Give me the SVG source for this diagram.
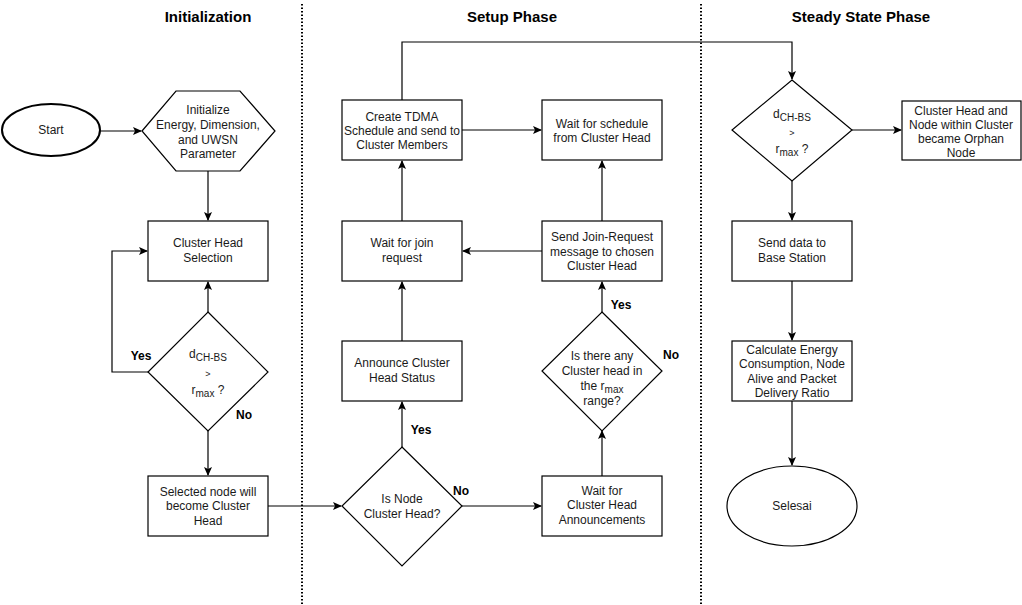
<svg xmlns="http://www.w3.org/2000/svg" width="1022" height="605" viewBox="0 0 1022 605">
<style>
.n{fill:#fff;stroke:#000;stroke-width:1.2}
.t{font-family:"Liberation Sans",Arial,sans-serif;font-size:12px;fill:#1a1a1a;text-anchor:middle}
.h{font-family:"Liberation Sans",Arial,sans-serif;font-size:15px;font-weight:bold;fill:#000;text-anchor:middle}
.l{font-family:"Liberation Sans",Arial,sans-serif;font-size:12px;font-weight:bold;fill:#000;text-anchor:middle}
.c{fill:none;stroke:#000;stroke-width:1.2}
.s{font-size:10px}
.g{font-size:9px}
.d{stroke:#000;stroke-width:2;stroke-dasharray:1.5 2;fill:none}
</style>
<defs>
<marker id="a" markerWidth="10" markerHeight="10" refX="8" refY="4" orient="auto" markerUnits="userSpaceOnUse">
<path d="M0,0 L9,4 L0,8 L2,4 Z" fill="#000"/>
</marker>
</defs>
<rect width="1022" height="605" fill="#fff"/>
<g id="dividers">
<line class="d" x1="302" y1="4" x2="302" y2="605"/>
<line class="d" x1="701" y1="4" x2="701" y2="605"/>
</g>
<g id="headers">
<text class="h" x="208" y="22">Initialization</text>
<text class="h" x="512" y="22">Setup Phase</text>
<text class="h" x="861" y="22">Steady State Phase</text>
</g>
<g id="connectors">
<line class="c" x1="100" y1="131" x2="141" y2="131" marker-end="url(#a)"/>
<line class="c" x1="208" y1="171" x2="208" y2="220" marker-end="url(#a)"/>
<line class="c" x1="208" y1="312" x2="208" y2="282" marker-end="url(#a)"/>
<polyline class="c" points="148,372 112,372 112,251 147,251" marker-end="url(#a)"/>
<line class="c" x1="208" y1="430" x2="208" y2="475" marker-end="url(#a)"/>
<line class="c" x1="268" y1="506" x2="341" y2="506" marker-end="url(#a)"/>
<line class="c" x1="462" y1="506" x2="541" y2="506" marker-end="url(#a)"/>
<line class="c" x1="402" y1="447" x2="402" y2="402" marker-end="url(#a)"/>
<line class="c" x1="402" y1="341" x2="402" y2="282" marker-end="url(#a)"/>
<line class="c" x1="402" y1="221" x2="402" y2="161" marker-end="url(#a)"/>
<line class="c" x1="462" y1="130" x2="541" y2="130" marker-end="url(#a)"/>
<polyline class="c" points="402,100 402,42 792,42 792,79" marker-end="url(#a)"/>
<line class="c" x1="602" y1="476" x2="602" y2="431" marker-end="url(#a)"/>
<line class="c" x1="602" y1="312" x2="602" y2="282" marker-end="url(#a)"/>
<line class="c" x1="542" y1="251" x2="463" y2="251" marker-end="url(#a)"/>
<line class="c" x1="602" y1="221" x2="602" y2="161" marker-end="url(#a)"/>
<line class="c" x1="852" y1="130" x2="901" y2="130" marker-end="url(#a)"/>
<line class="c" x1="792" y1="181" x2="792" y2="220" marker-end="url(#a)"/>
<line class="c" x1="792" y1="281" x2="792" y2="340" marker-end="url(#a)"/>
<line class="c" x1="792" y1="401" x2="792" y2="465" marker-end="url(#a)"/>
</g>
<g id="labels">
<text class="l" x="141" y="360">Yes</text>
<text class="l" x="244" y="419">No</text>
<text class="l" x="461" y="495">No</text>
<text class="l" x="421" y="434">Yes</text>
<text class="l" x="621" y="309">Yes</text>
<text class="l" x="671" y="359">No</text>
</g>
<g id="start">
<ellipse cx="51" cy="130" rx="49" ry="26" fill="#fff" stroke="#000" stroke-width="2"/>
<text class="t" x="51" y="134">Start</text>
</g>
<g id="init">
<polygon class="n" points="142,131 176,91 240,91 275,131 240,171 176,171"/>
<text class="t" x="208" y="114">Initialize</text>
<text class="t" x="208" y="129">Energy, Dimension,</text>
<text class="t" x="208" y="144">and UWSN</text>
<text class="t" x="208" y="158">Parameter</text>
</g>
<g id="chsel">
<rect class="n" x="148" y="221" width="120" height="60"/>
<text class="t" x="208" y="247">Cluster Head</text>
<text class="t" x="208" y="262">Selection</text>
</g>
<g id="dec1">
<polygon class="n" points="208,312 268,372 208,431 148,372"/>
<text class="t" x="208" y="358">d<tspan class="s" dy="3">CH-BS</tspan></text>
<text class="t g" x="208" y="377">&gt;</text>
<text class="t" x="208" y="394">r<tspan class="s" dy="3">max</tspan><tspan dy="-3"> ?</tspan></text>
</g>
<g id="selected">
<rect class="n" x="148" y="476" width="120" height="60"/>
<text class="t" x="208" y="496">Selected node will</text>
<text class="t" x="208" y="510">become Cluster</text>
<text class="t" x="208" y="525">Head</text>
</g>
<g id="isnode">
<polygon class="n" points="402,447 462,506 402,566 342,506"/>
<text class="t" x="402" y="503">Is Node</text>
<text class="t" x="402" y="518">Cluster Head?</text>
</g>
<g id="announce">
<rect class="n" x="342" y="341" width="120" height="60"/>
<text class="t" x="402" y="367">Announce Cluster</text>
<text class="t" x="402" y="382">Head Status</text>
</g>
<g id="waitjoin">
<rect class="n" x="342" y="221" width="120" height="60"/>
<text class="t" x="402" y="247">Wait for join</text>
<text class="t" x="402" y="262">request</text>
</g>
<g id="tdma">
<rect class="n" x="342" y="100" width="120" height="60"/>
<text class="t" x="402" y="121">Create TDMA</text>
<text class="t" x="402" y="135">Schedule and send to</text>
<text class="t" x="402" y="149">Cluster Members</text>
</g>
<g id="waitsched">
<rect class="n" x="542" y="100" width="120" height="60"/>
<text class="t" x="602" y="128">Wait for schedule</text>
<text class="t" x="602" y="142">from Cluster Head</text>
</g>
<g id="sendjoin">
<rect class="n" x="542" y="221" width="120" height="60"/>
<text class="t" x="602" y="241">Send Join-Request</text>
<text class="t" x="602" y="256">message to chosen</text>
<text class="t" x="602" y="270">Cluster Head</text>
</g>
<g id="dec2">
<polygon class="n" points="602,312 662,371 602,431 542,371"/>
<text class="t" x="602" y="360">Is there any</text>
<text class="t" x="602" y="375">Cluster head in</text>
<text class="t" x="602" y="390">the r<tspan class="s" dy="3">max</tspan></text>
<text class="t" x="602" y="405">range?</text>
</g>
<g id="waitann">
<rect class="n" x="542" y="476" width="120" height="60"/>
<text class="t" x="602" y="495">Wait for</text>
<text class="t" x="602" y="509">Cluster Head</text>
<text class="t" x="602" y="524">Announcements</text>
</g>
<g id="dec3">
<polygon class="n" points="792,80 852,130 792,181 732,130"/>
<text class="t" x="792" y="118">d<tspan class="s" dy="3">CH-BS</tspan></text>
<text class="t g" x="792" y="136">&gt;</text>
<text class="t" x="792" y="153">r<tspan class="s" dy="3">max</tspan><tspan dy="-3"> ?</tspan></text>
</g>
<g id="orphan">
<rect class="n" x="902" y="101" width="119" height="59"/>
<text class="t" x="961" y="115">Cluster Head and</text>
<text class="t" x="961" y="129">Node within Cluster</text>
<text class="t" x="961" y="143">became Orphan</text>
<text class="t" x="961" y="157">Node</text>
</g>
<g id="senddata">
<rect class="n" x="732" y="221" width="120" height="60"/>
<text class="t" x="792" y="247">Send data to</text>
<text class="t" x="792" y="262">Base Station</text>
</g>
<g id="calc">
<rect class="n" x="732" y="341" width="120" height="60"/>
<text class="t" x="792" y="354">Calculate Energy</text>
<text class="t" x="792" y="368">Consumption, Node</text>
<text class="t" x="792" y="383">Alive and Packet</text>
<text class="t" x="792" y="397">Delivery Ratio</text>
</g>
<g id="selesai">
<ellipse class="n" cx="792" cy="506" rx="65" ry="40"/>
<text class="t" x="792" y="510">Selesai</text>
</g>
</svg>
